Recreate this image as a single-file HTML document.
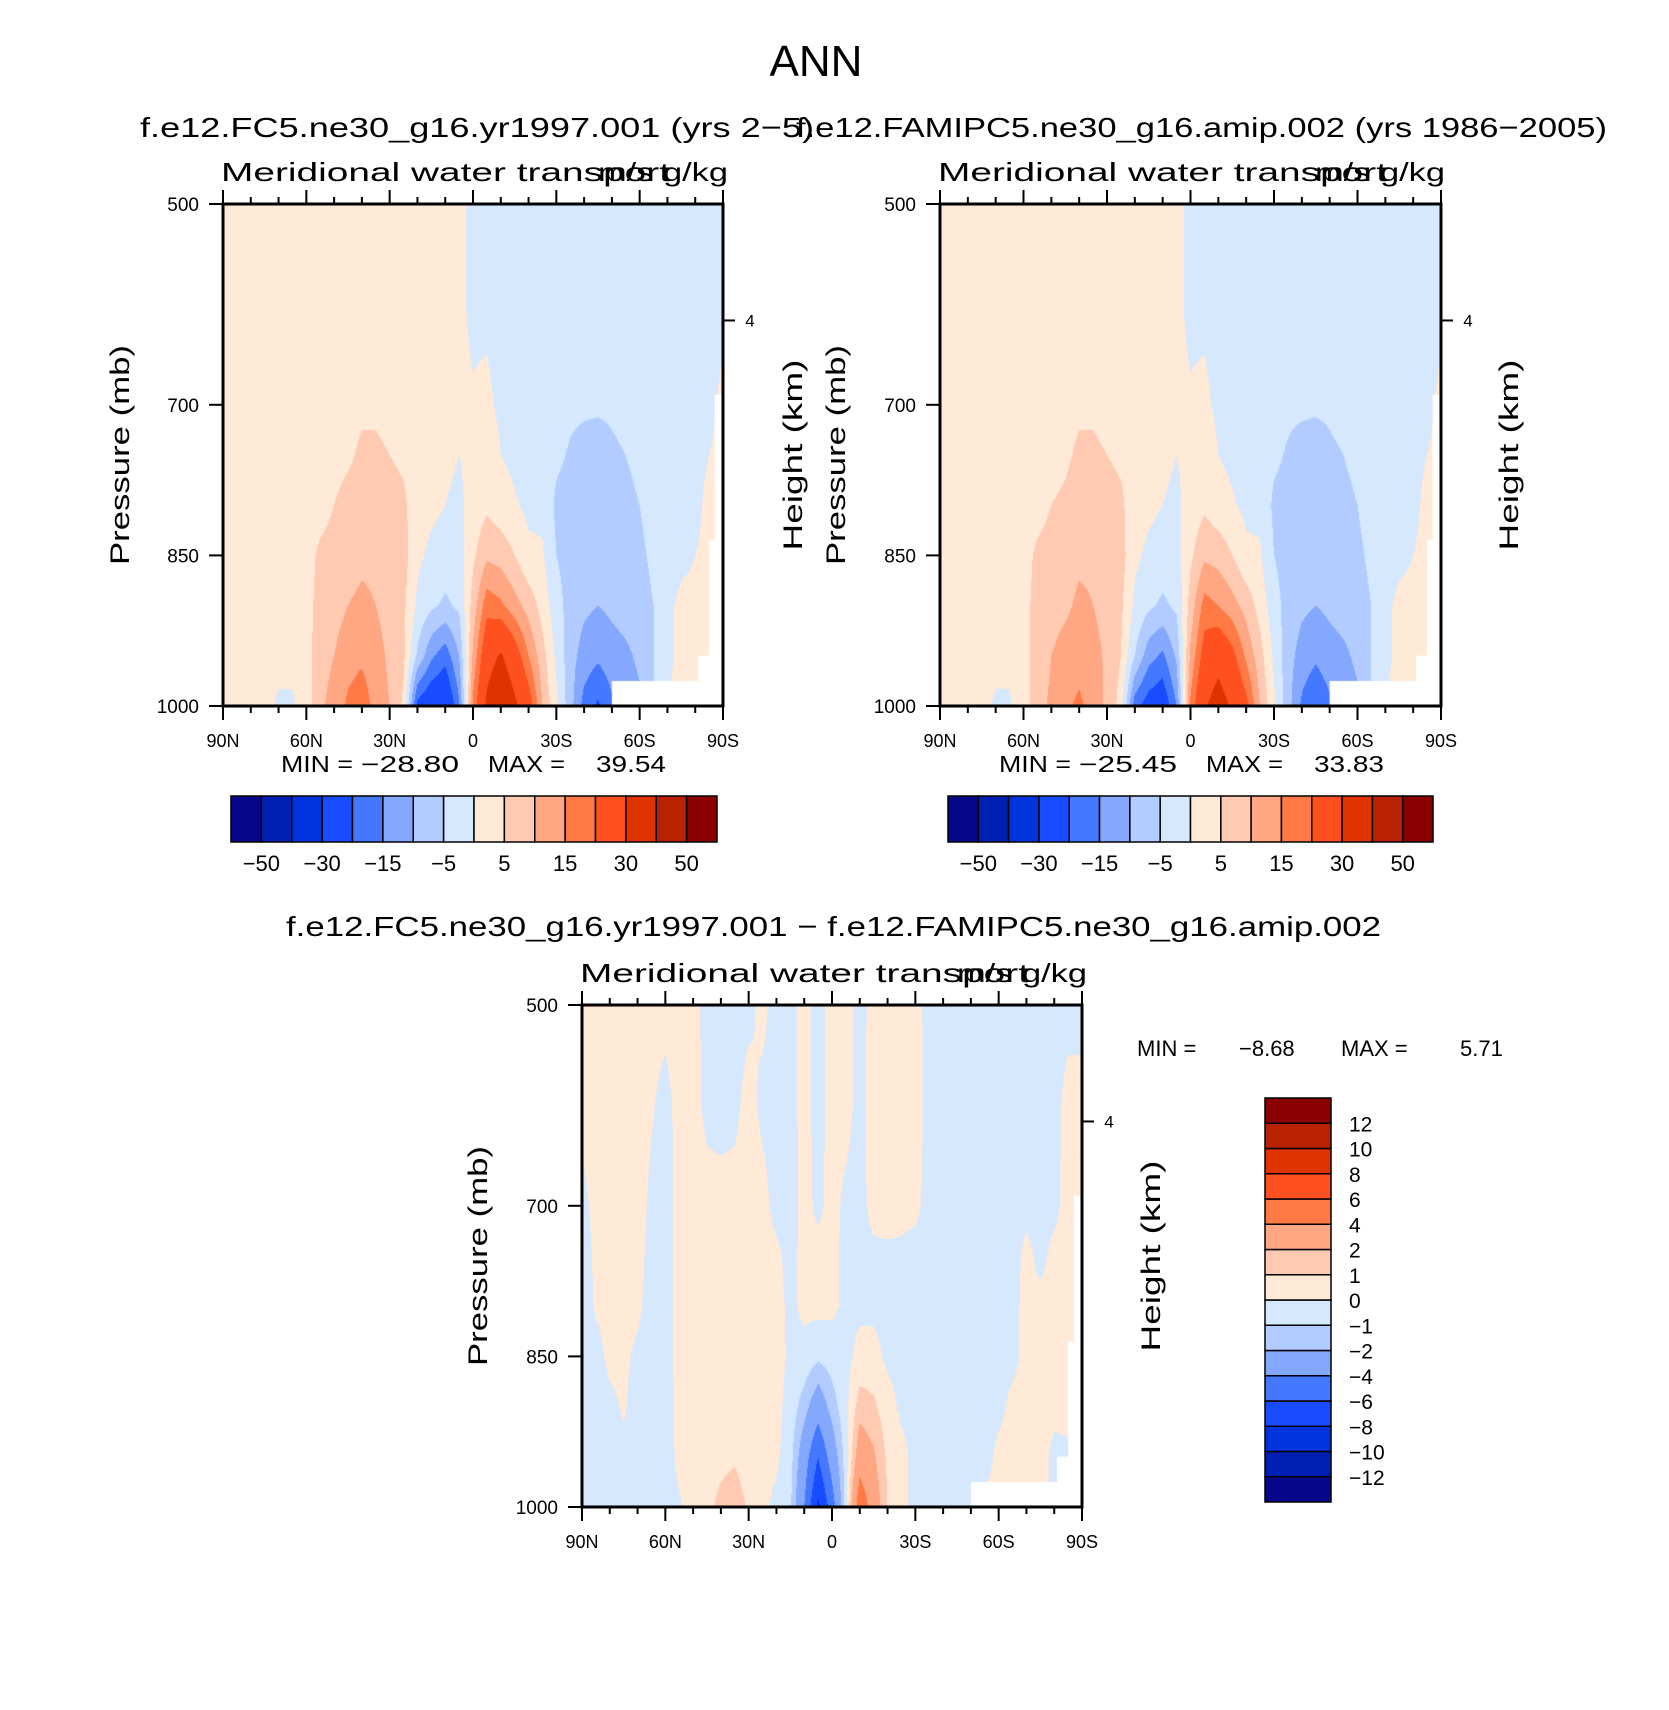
<!DOCTYPE html>
<html><head><meta charset="utf-8">
<style>
html,body{margin:0;padding:0;background:#fff;}
#wrap{position:relative;width:1669px;height:1710px;overflow:hidden;font-family:"Liberation Sans",sans-serif;}
canvas{position:absolute;}
svg{position:absolute;left:0;top:0;}
</style></head>
<body>
<div id="wrap">
<canvas id="c1" style="left:223px;top:204px" width="500" height="502"></canvas>
<canvas id="c2" style="left:940px;top:204px" width="501" height="502"></canvas>
<canvas id="c3" style="left:582px;top:1005px" width="500" height="502"></canvas>
<svg id="ov" width="1669" height="1710"></svg>
</div>
<script>
const lats = [90,85,80,75,70,65,60,55,50,45,40,35,30,25,20,15,10,5,0,-5,-10,-15,-20,-25,-30,-35,-40,-45,-50,-55,-60,-65,-70,-75,-80,-85,-90];
const plevs = [500,600,700,750,800,850,900,950,1000];
const p1cols = [
[2,2,2,2,2,2,2,1,1],[2,2,2,2,2,2,2,2,1],[2,2,2,2,2,2,2,2,1],[2,2,2,2,2,2,2,2,1],
[2,2,2,2,2,2,2,1,-0.5],[2,2,2,2,2,2,2,1,-0.5],[2,2,2,2,2,3,3,3,2],[2,2,2,2,3,6,7,8,9],
[2,2,2,3,5,7,8,10,12],[2,2,3,4,7,8,10,13,16],[2,3,4,6,8,9,11,14,18],[2,3,4,6,8,9,10,12,13],
[2,3,3,5,7,8,8,9,10],[2,2,3,4,6,7,6,6,4],[2,2,2,2,2,1,-1,-6,-22],[2,2,2,1,1,-1,-4,-14,-26],
[2,2,1,1,0,-2,-6,-18,-28],[1,1,1,0,-1,-2,-4,-10,-16],[-1,-1,0.5,1,2,4,7,11,16],
[-1,-1,1,3,4,9,18,26,32],[-2,-2,-1,0,2,8,16,31,39],[-2,-2,-2,-1,0.5,5,12,24,32],
[-2,-2,-2,-2,-1,1,8,15,24],[-2,-2,-2,-2,-1,0.5,3,7,10],[-2,-3,-3,-4,-6,-5,-3,-1,1],
[-2,-3,-4,-5.5,-7,-7,-7,-8,-8],[-2,-3,-4,-7,-8,-8,-9,-12,-17],[-2,-3,-4,-8,-9,-9,-10,-14,-21],
[-2,-3,-4,-6,-7,-8,-9,-12,-16],[-2,-3,-3,-5,-6,-7,-8,-11,-13],[-2,-2,-3,-4,-5,-6,-7,-9,-11],
[-2,-2,-2,-3,-3,-4,-5,-5,-5],[-2,-2,-2,-2,-2,-2,-1,-1,0],[-2,-2,-2,-2,-1,-1,1,1,2],
[-2,-2,-2,-1,-1,0,1,2,2],[-2,-2,-1,0,1,1,2,2,2],[-1,-1,1,1,1,1,2,2,2]];
const p2cols = [
[2,2,2,2,2,2,2,1,1],[2,2,2,2,2,2,2,2,1],[2,2,2,2,2,2,2,2,1],[2,2,2,2,2,2,2,2,1],
[2,2,2,2,2,2,2,1,-0.5],[2,2,2,2,2,2,2,1,-0.5],[2,2,2,2,2,3,3,3,2],[2,2,2,2,3,6,7,7,8],
[2,2,2,3,5,7,8,10,11],[2,2,3,4,6,8,9,12,14],[2,3,4,6,8,9,11,13,16],[2,3,4,6,8,9,10,12,13],
[2,3,3,5,7,8,8,9,9],[2,2,3,4,6,7,6,5,3],[2,2,2,2,2,1,-1,-5,-18],[2,2,2,1,1,-1,-4,-13,-23],
[2,2,1,1,0,-2,-6,-16,-25],[1,1,1,0,-1,-2,-4,-9,-15],[-1,-1,0.5,1,2,4,7,11,16],
[-1,-1,1,3,4,9,17,23,29],[-2,-2,-1,0,2,8,15,27,34],[-2,-2,-2,-1,0.5,5,12,22,29],
[-2,-2,-2,-2,-1,1,8,14,22],[-2,-2,-2,-2,-1,0.5,3,7,10],[-2,-3,-3,-4,-6,-5,-3,-1,1],
[-2,-3,-4,-5.5,-7,-7,-7,-8,-8],[-2,-3,-4,-7,-8,-8,-9,-12,-16],[-2,-3,-4,-8,-9,-9,-10,-14,-20],
[-2,-3,-4,-6,-7,-8,-9,-12,-16],[-2,-3,-3,-5,-6,-7,-8,-11,-13],[-2,-2,-3,-4,-5,-6,-7,-9,-11],
[-2,-2,-2,-3,-3,-4,-5,-5,-5],[-2,-2,-2,-2,-2,-2,-1,-1,0],[-2,-2,-2,-2,-1,-1,1,1,2],
[-2,-2,-2,-1,-1,0,1,2,2],[-2,-2,-1,0,1,1,2,2,2],[-1,-1,1,1,1,1,2,2,2]];
const p3cols = [
[0.5,0.3,-0.3,-0.5,-0.5,-0.5,-0.5,-0.5,-0.5],[0.5,0.5,0.3,0.2,0.1,-0.3,-0.5,-0.5,-0.3],
[0.5,0.5,0.5,0.5,0.3,0.2,-0.2,-0.4,-0.2],[0.5,0.5,0.5,0.5,0.4,0.2,0.1,-0.2,-0.2],
[0.5,0.5,0.4,0.3,0.2,-0.2,-0.4,-0.5,-0.3],[0.3,0.1,-0.2,-0.3,-0.4,-0.5,-0.5,-0.5,-0.3],
[0.3,-0.3,-0.4,-0.5,-0.5,-0.5,-0.5,-0.4,-0.2],[0.4,0.3,0.3,0.4,0.4,0.4,0.3,0.2,-0.1],
[0.3,0.3,0.4,0.5,0.5,0.5,0.5,0.5,0.4],[-0.3,-0.2,0.3,0.5,0.5,0.5,0.5,0.6,0.8],
[-0.3,-0.3,0.3,0.4,0.5,0.5,0.5,0.8,1.2],[-0.3,-0.2,0.3,0.5,0.5,0.5,0.6,0.9,1.4],
[-0.2,0.3,0.4,0.5,0.5,0.5,0.5,0.6,0.9],[0.2,-0.2,0.3,0.4,0.5,0.5,0.5,0.4,0.3],
[-0.3,-0.3,-0.3,0.2,0.3,0.4,0.3,0.2,-0.3],[-0.3,-0.3,-0.4,-0.3,-0.2,-0.2,-0.4,-0.6,-0.8],
[0.3,0.3,0.3,0.3,0.2,-0.3,-1.5,-3,-4],[-0.3,-0.3,-0.2,0.3,0.3,-0.8,-3,-6,-8.5],
[0.3,0.3,0.3,0.3,0.2,-0.5,-1.5,-3,-5],[0.3,0.3,-0.2,-0.3,-0.2,-0.3,-0.3,-0.5,-0.5],
[-0.3,-0.3,-0.3,-0.3,-0.2,0.3,1.5,3,5.5],[0.3,0.4,0.3,-0.2,-0.2,0.3,1.2,2.2,3],
[0.5,0.5,0.4,-0.2,-0.3,-0.2,0.4,0.8,1],[0.5,0.5,0.3,-0.2,-0.3,-0.3,-0.2,0.3,0.3],
[0.3,0.4,0.2,-0.3,-0.3,-0.3,-0.3,-0.3,-0.3],[-0.3,-0.3,-0.3,-0.3,-0.3,-0.3,-0.3,-0.3,-0.3],
[-0.3,-0.3,-0.3,-0.3,-0.3,-0.3,-0.3,-0.3,-0.3],[-0.3,-0.3,-0.3,-0.3,-0.3,-0.3,-0.3,-0.3,-0.3],
[-0.3,-0.3,-0.3,-0.3,-0.3,-0.3,-0.3,-0.3,-0.3],[-0.3,-0.3,-0.3,-0.3,-0.3,-0.3,-0.3,-0.3,0.2],
[-0.3,-0.3,-0.3,-0.3,-0.3,-0.3,-0.2,0.2,0.2],[-0.3,-0.3,-0.3,-0.3,-0.2,-0.2,0.2,0.3,0.3],
[-0.3,-0.3,-0.2,0.2,0.2,0.2,0.3,0.3,0.3],[-0.3,-0.3,-0.3,-0.2,0.2,0.2,0.3,0.3,0.3],
[-0.3,-0.3,-0.2,0.2,0.3,0.3,0.2,-0.2,-0.2],[-0.3,0.3,0.3,0.3,0.3,0.3,0.3,-0.2,-0.2],
[-0.3,0.3,0.3,0.3,0.3,0.3,0.3,0.3,0.3]];
const levelsTop = [-50,-40,-30,-20,-15,-10,-5,0,5,10,15,20,30,40,50];
const levelsDiff = [-12,-10,-8,-6,-4,-2,-1,0,1,2,4,6,8,10,12];
const levelColors = ["#07078c","#0020b4","#0034dc","#1a4cff","#4479ff","#85a8ff","#b3ccff","#d5e8fd","#ffe9d7","#ffcab1","#ffa682","#ff7a45","#ff5020","#e03400","#b82200","#8b0000"];
const topBarLabels = ["-50","-30","-15","-5","5","15","30","50"];
const xTickLats = [90,60,30,0,-30,-60,-90];
const xTickLabels = ["90N","60N","30N","0","30S","60S","90S"];
const pTicks = [500,700,850,1000];
const minVals = ["\u221228.80","\u221225.45"];
const maxVals = ["39.54","33.83"];
const maskPoly = [[-50,1000],[-50,975],[-81,975],[-81,950],[-85,950],[-85,835],[-87,835],[-87,690],[-90,690],[-90,1000]];

const panels = [
 {x0:223,y0:204,w:500,h:502,cv:'c1',data:p1cols,lv:levelsTop},
 {x0:940,y0:204,w:501,h:502,cv:'c2',data:p2cols,lv:levelsTop},
 {x0:582,y0:1005,w:500,h:502,cv:'c3',data:p3cols,lv:levelsDiff}];
function xOf(P,lat){return P.x0+(90-lat)/180*P.w;}
function yOf(P,p){return P.y0+(p-500)/500*P.h;}
function sample(data,lat,p){
  let fi=(90-lat)/5; let i=Math.min(35,Math.max(0,Math.floor(fi))); let tx=fi-i;
  let j=0; while(j<plevs.length-2 && p>plevs[j+1]) j++;
  let ty=(p-plevs[j])/(plevs[j+1]-plevs[j]); ty=Math.max(0,Math.min(1,ty));
  const a=data[i][j],b=data[i+1][j],c=data[i][j+1],d=data[i+1][j+1];
  return (a*(1-tx)+b*tx)*(1-ty)+(c*(1-tx)+d*tx)*ty;
}
function hex(c){return [parseInt(c.substr(1,2),16),parseInt(c.substr(3,2),16),parseInt(c.substr(5,2),16)];}
const rgb=levelColors.map(hex);
panels.forEach(P=>{
  const cv=document.getElementById(P.cv), ctx=cv.getContext('2d');
  const img=ctx.createImageData(cv.width,cv.height);
  for(let py=0;py<cv.height;py++){
    const p=500+(py+0.5)/P.h*500;
    for(let px=0;px<cv.width;px++){
      const lat=90-(px+0.5)/P.w*180;
      const v=sample(P.data,lat,p);
      let k=0; while(k<P.lv.length && v>=P.lv[k]) k++;
      const c=rgb[k], o=(py*cv.width+px)*4;
      img.data[o]=c[0];img.data[o+1]=c[1];img.data[o+2]=c[2];img.data[o+3]=255;
    }
  }
  ctx.putImageData(img,0,0);
  ctx.fillStyle='#fff'; ctx.beginPath();
  maskPoly.forEach((q,n)=>{const X=xOf(P,q[0])-P.x0,Y=yOf(P,q[1])-P.y0; n?ctx.lineTo(X,Y):ctx.moveTo(X,Y);});
  ctx.closePath(); ctx.fill();
});

const NS='http://www.w3.org/2000/svg', svg=document.getElementById('ov');
function el(tag,attrs,parent){const e=document.createElementNS(NS,tag);for(const k in attrs)e.setAttribute(k,attrs[k]);(parent||svg).appendChild(e);return e;}
function txt(s,x,y,size,anchor,extra,parent){const t=el('text',Object.assign({x:x,y:y,'font-size':size,'text-anchor':anchor||'start','font-family':'Liberation Sans, sans-serif',fill:'#000'},extra||{}),parent);t.textContent=s;return t;}

let t;
t=txt('ANN',816,76,44,'middle');


t=txt('f.e12.FC5.ne30_g16.yr1997.001 (yrs 2\u22125)',140,137,28,'start',{textLength:674,lengthAdjust:'spacingAndGlyphs'});


t=txt('f.e12.FAMIPC5.ne30_g16.amip.002 (yrs 1986\u22122005)',796,137,28,'start',{textLength:811,lengthAdjust:'spacingAndGlyphs'});


t=txt('f.e12.FC5.ne30_g16.yr1997.001 \u2212 f.e12.FAMIPC5.ne30_g16.amip.002',286,936,28,'start',{textLength:1095,lengthAdjust:'spacingAndGlyphs'});



const hkmLab=[{x:793},{x:1509},{x:1151}];
const ptitleX=[120,836,478];
panels.forEach((P,n)=>{
  const g=el('g',{});
  
  
  const m=txt('Meridional water transport',P.x0-2,P.y0-23,26,'start',{textLength:449,lengthAdjust:'spacingAndGlyphs'},g);
  
  
  const u=txt('m/s g/kg',P.x0+375,P.y0-23,26,'start',{textLength:130,lengthAdjust:'spacingAndGlyphs'},g);
  
  
  el('rect',{x:P.x0,y:P.y0,width:P.w,height:P.h,fill:'none',stroke:'#000','stroke-width':3},g);
  for(let lat=90;lat>=-90;lat-=10){
    const X=xOf(P,lat), major=(lat%30===0), L=major?14:7;
    el('line',{x1:X,x2:X,y1:P.y0,y2:P.y0-L,stroke:'#000','stroke-width':2},g);
    el('line',{x1:X,x2:X,y1:P.y0+P.h,y2:P.y0+P.h+L,stroke:'#000','stroke-width':2},g);
  }
  xTickLats.forEach((lat,k)=>{
    const l=txt(xTickLabels[k],xOf(P,lat),P.y0+P.h+41,18,'middle',{},g);
    
    
  });
  pTicks.forEach(p=>{
    const Y=yOf(P,p);
    el('line',{x1:P.x0-14,x2:P.x0,y1:Y,y2:Y,stroke:'#000','stroke-width':2},g);
    const l=txt(String(p),P.x0-24,Y+7,19,'end',{},g);
    
    
  });
  const Y4=yOf(P,616);
  el('line',{x1:P.x0+P.w,x2:P.x0+P.w+12,y1:Y4,y2:Y4,stroke:'#000','stroke-width':2},g);
  const l4=txt('4',P.x0+P.w+27,Y4+6,17,'middle',{},g);
  
  
  const cy=P.y0+P.h/2;
  const yt=txt('Pressure (mb)',ptitleX[n]+9,cy,27,'middle',{transform:'rotate(-90 '+(ptitleX[n]+9)+' '+cy+')',textLength:220,lengthAdjust:'spacingAndGlyphs'},g);
  
  
  const hx=hkmLab[n].x+9;
  const ht=txt('Height (km)',hx,cy,27,'middle',{transform:'rotate(-90 '+hx+' '+cy+')',textLength:191,lengthAdjust:'spacingAndGlyphs'},g);
  
  
});

// min/max for top panels
[0,718].forEach((dx,n)=>{
  let a=txt('MIN =',281+dx,772,23,'start',{textLength:72,lengthAdjust:'spacingAndGlyphs'});
  
  
  a=txt(minVals[n],361+dx,772,23,'start',{textLength:98,lengthAdjust:'spacingAndGlyphs'});
  
  
  a=txt('MAX =',488+dx,772,23,'start',{textLength:77,lengthAdjust:'spacingAndGlyphs'});
  
  
  a=txt(maxVals[n],596+dx,772,23,'start',{textLength:70,lengthAdjust:'spacingAndGlyphs'});
  
  
});
t=txt('MIN =',1137,1056,22,'start');


t=txt('\u22128.68',1239,1056,22,'start');


t=txt('MAX =',1341,1056,22,'start');


t=txt('5.71',1460,1056,22,'start');



// horizontal colorbars
[[231,717],[948,1433]].forEach((b,n)=>{
  const g=el('g',{});
  
  
  const bw=(b[1]-b[0])/16;
  levelColors.forEach((c,k)=>{
    const r=el('rect',{x:b[0]+k*bw,y:796,width:bw,height:46,fill:c,stroke:'#000','stroke-width':1.5},g);
    
    
  });
  topBarLabels.forEach((s,k)=>{
    const l=txt(s.replace('-','\u2212'),b[0]+(2*k+1)*bw,871,22,'middle',{},g);
    
    
  });
});
// vertical colorbar
{
  const g=el('g',{});
  
  
  const y0=1098,y1=1502,bh=(y1-y0)/16;
  levelColors.forEach((c,k)=>{
    const r=el('rect',{x:1265,y:y1-(k+1)*bh,width:66,height:bh,fill:c,stroke:'#000','stroke-width':1.5},g);
    
    
  });
  levelsDiff.forEach((v,k)=>{
    const Y=y1-(k+1)*bh;
    const l=txt(String(v).replace('-','\u2212'),1349,Y+8,21,'start',{},g);
    
    
  });
}
</script>
</body></html>
